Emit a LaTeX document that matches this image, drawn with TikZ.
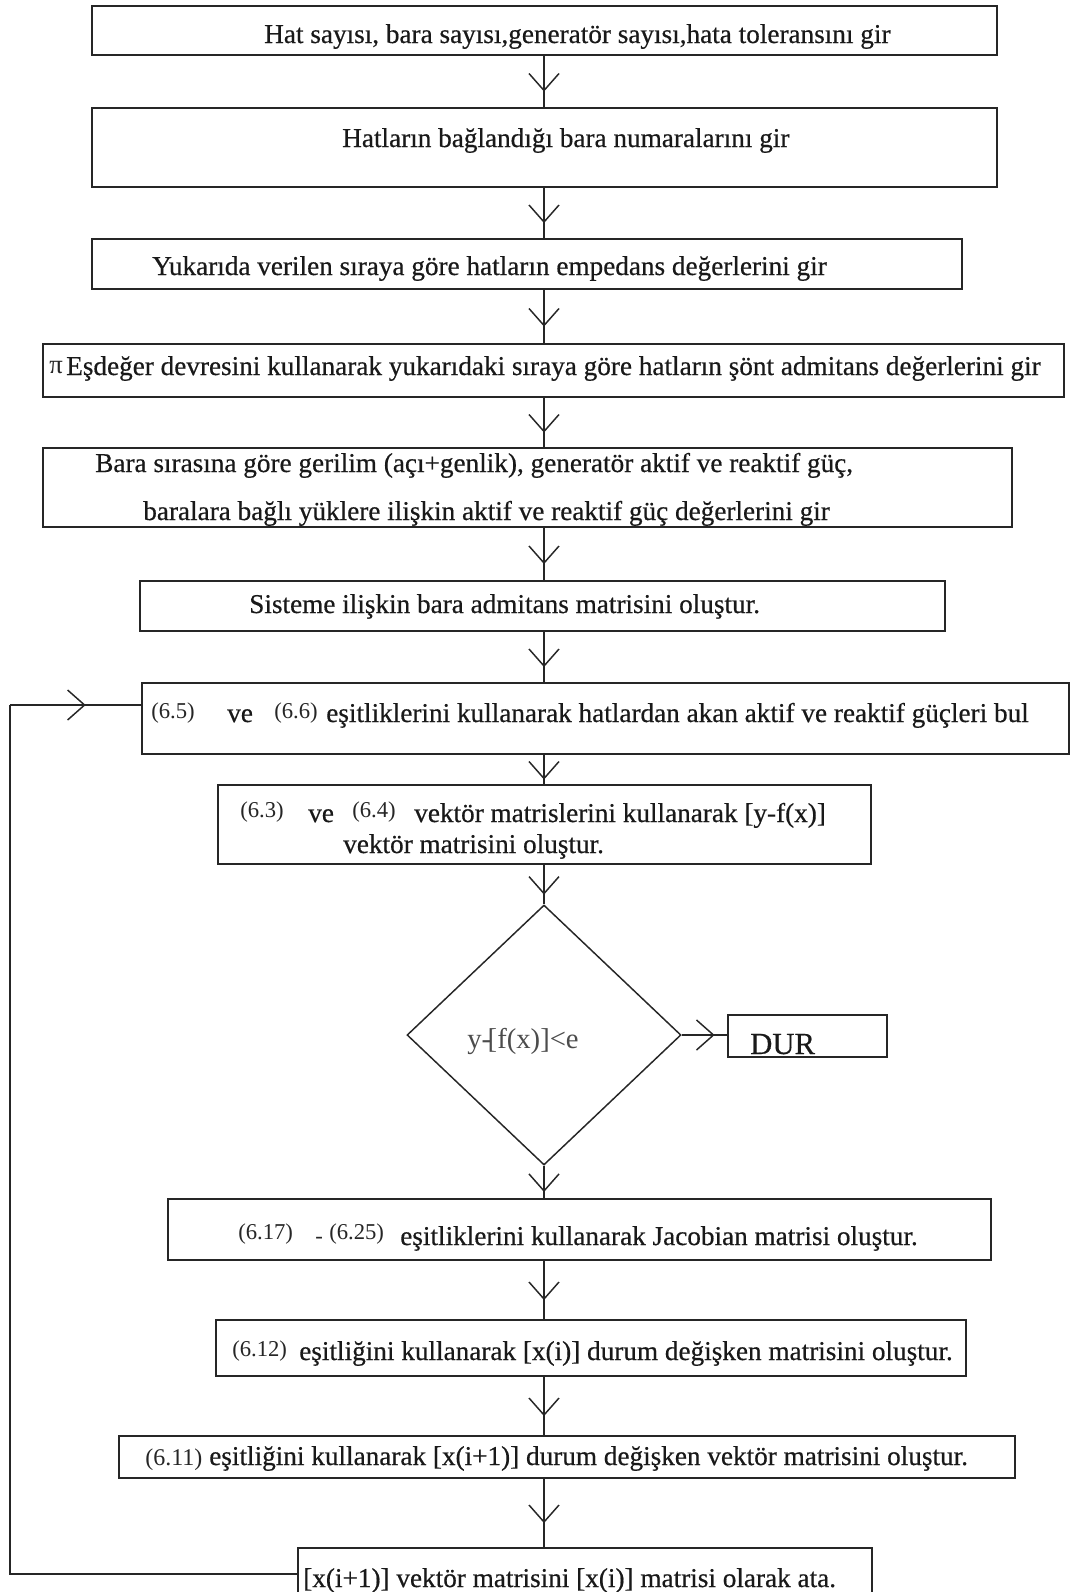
\documentclass[tikz,border=0pt]{standalone}
\usepackage{fontspec}
\setmainfont{Liberation Serif}[FakeBold=0.5]
\newfontfamily\eqnfont{Liberation Serif}
\usetikzlibrary{fit,shapes.geometric,decorations.markings}
\begin{document}
\begin{tikzpicture}[x=0.75pt,y=-0.75pt,
  box/.style={draw=black!85, line width=1.3pt, inner sep=0pt, fill=white},
  txt/.style={anchor=base west, inner sep=0pt, text=black!90, font=\fontsize{20.4}{24}\selectfont},
  eqn/.style={anchor=base west, inner sep=0pt, text=black!85, font=\eqnfont\fontsize{17}{20}\selectfont},
  link/.style={draw=black!85, line width=1.1pt},
  flow/.style={link, postaction={decorate}, decoration={markings,
      mark=at position 0.5 with {\draw[black!85, line width=1.1pt] (-8,-15) -- (9,0) -- (-8,15);}}},
]
\useasboundingbox (0,0) rectangle (1070,1592);
\clip (0,0) rectangle (1070,1592);
\fill[white] (0,0) rectangle (1070,1592);

% column of the main flow
\coordinate (sp) at (544,0);

% process boxes
\node[box, fit={(92,6) (997,55)}] (b1) {};
\node[box, fit={(92,108) (997,187)}] (b2) {};
\node[box, fit={(92,239) (962,289)}] (b3) {};
\node[box, fit={(43,344) (1064,397)}] (b4) {};
\node[box, fit={(43,448) (1012,527)}] (b5) {};
\node[box, fit={(140,581) (945,631)}] (b6) {};
\node[box, fit={(142,683) (1069,754)}] (b7) {};
\node[box, fit={(218,785) (871,864)}] (b8) {};
\node[draw=black!85, line width=1.1pt, diamond, inner sep=0pt,
      minimum width=205.5pt, minimum height=195pt] (dia) at (544,1035) {};
\node[box, line width=1.1pt, fit={(728,1015) (887,1057)}] (dur) {};
\node[box, fit={(168,1199) (991,1260)}] (b9) {};
\node[box, fit={(216,1320) (966,1376)}] (b10) {};
\node[box, fit={(119,1436) (1015,1478)}] (b11) {};
\node[box, fit={(298,1548) (872,1600)}] (b12) {};

% texts
\node[txt] (t1) at (264,43) {Hat sayısı, bara sayısı,generatör sayısı,hata toleransını gir};
\node[txt] (t2) at (342,147) {Hatların bağlandığı bara numaralarını gir};
\node[txt] (t3) at (152,275) {Yukarıda verilen sıraya göre hatların empedans değerlerini gir};
\node[eqn, font=\eqnfont\fontsize{20}{24}\selectfont] (tpi) at (49,373) {π};
\node[txt] (t4) at (66,375) {Eşdeğer devresini kullanarak yukarıdaki sıraya göre hatların şönt admitans değerlerini gir};
\node[txt] (t5a) at (95,472) {Bara sırasına göre gerilim (açı+genlik), generatör aktif ve reaktif güç,};
\node[txt] (t5b) at (143,520) {baralara bağlı yüklere ilişkin aktif ve reaktif güç değerlerini gir};
\node[txt] (t6) at (249,613) {Sisteme ilişkin bara admitans matrisini oluştur.};

\node[eqn] (e65) at (151,718) {(6.5)};
\node[txt] (t7a) at (227,722) {ve};
\node[eqn] (e66) at (274,718) {(6.6)};
\node[txt] (t7b) at (326,722) {eşitliklerini kullanarak hatlardan akan aktif ve reaktif güçleri bul};

\node[eqn] (e63) at (240,817) {(6.3)};
\node[txt] (t8a) at (308,822) {ve};
\node[eqn] (e64) at (352,817) {(6.4)};
\node[txt] (t8b) at (414,822) {vektör matrislerini kullanarak [y-f(x)]};
\node[txt] (t8c) at (343,853) {vektör matrisini oluştur.};

\node[txt, text=black!70, font=\eqnfont\fontsize{21.5}{24}\selectfont] (tq) at (467,1048) {y-\kern-.12em[f(x)]<e};
\node[txt, font=\fontsize{23}{26}\selectfont] (tdur) at (750,1054) {DUR};

\node[eqn] (e617) at (238,1239) {(6.17)};
\node[eqn] (edash) at (315,1243) {-};
\node[eqn] (e625) at (329,1239) {(6.25)};
\node[txt] (t9) at (400,1245) {eşitliklerini kullanarak Jacobian matrisi oluştur.};

\node[eqn] (e612) at (232,1356) {(6.12)};
\node[txt] (t10) at (299,1360) {eşitliğini kullanarak [x(i)] durum değişken matrisini oluştur.};

\node[eqn, font=\eqnfont\fontsize{18}{22}\selectfont] (e611) at (145,1465) {(6.11)};
\node[txt] (t11) at (209,1465) {eşitliğini kullanarak [x(i+1)] durum değişken vektör matrisini oluştur.};

\node[txt] (t12) at (303,1587) {[x(i+1)] vektör matrisini [x(i)] matrisi olarak ata.};

% connectors of the main flow
\draw[flow] (b1.south -| sp) -- (b2.north -| sp);
\draw[flow] (b2.south -| sp) -- (b3.north -| sp);
\draw[flow] (b3.south -| sp) -- (b4.north -| sp);
\draw[flow] (b4.south -| sp) -- (b5.north -| sp);
\draw[flow] (b5.south -| sp) -- (b6.north -| sp);
\draw[flow] (b6.south -| sp) -- (b7.north -| sp);
\draw[flow] (b7.south -| sp) -- (b8.north -| sp);
\draw[flow] (b8.south -| sp) -- (dia.north);
\draw[flow] (dia.south) -- (b9.north -| sp);
\draw[flow] (b9.south -| sp) -- (b10.north -| sp);
\draw[flow] (b10.south -| sp) -- (b11.north -| sp);
\draw[flow] (b11.south -| sp) -- (b12.north -| sp);

% exit of the decision
\draw[flow] (dia.east) -- (dur.west |- dia.east);

% iteration loop back to the power-flow step
\coordinate (lb) at (10,1574);
\coordinate (lt) at (10,705);
\draw[link] (b12.west) -- (lb) -- (lt);
\draw[flow] (lt) -- (lt -| b7.west);
\end{tikzpicture}
\end{document}
